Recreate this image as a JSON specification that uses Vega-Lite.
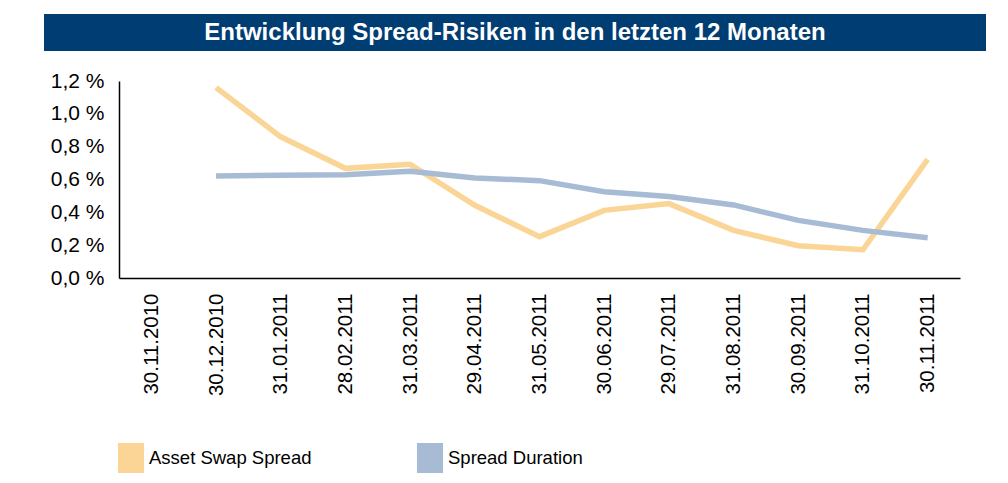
{
  "$schema": "https://vega.github.io/schema/vega-lite/v6.json",
  "padding": {"left": 44, "top": 14, "right": 0, "bottom": 0},
  "spacing": 19,
  "background": "white",
  "config": {
    "view": {"stroke": null},
    "font": "Liberation Sans",
    "axis": {"labelFont": "Liberation Sans", "labelColor": "#000000", "labelFontSize": 20, "grid": false, "ticks": false, "domainColor": "#000000", "domainWidth": 1.5, "title": null},
    "legend": {"labelFont": "Liberation Sans", "labelFontSize": 18.5, "labelColor": "#000000"}
  },
  "vconcat": [
    {
      "width": 942,
      "height": 37,
      "view": {"fill": "#003D73", "stroke": null},
      "data": {"values": [{"t": "Entwicklung Spread-Risiken in den letzten 12 Monaten"}]},
      "mark": {"type": "text", "color": "white", "fontSize": 24, "fontWeight": "bold", "font": "Liberation Sans"},
      "encoding": {"text": {"field": "t"}}
    },
    {
      "width": 916,
      "height": 197,
      "data": {"values": [
        {"date": "30.12.2010", "series": "Asset Swap Spread", "value": 1.16},
        {"date": "31.01.2011", "series": "Asset Swap Spread", "value": 0.86},
        {"date": "28.02.2011", "series": "Asset Swap Spread", "value": 0.668},
        {"date": "31.03.2011", "series": "Asset Swap Spread", "value": 0.693},
        {"date": "29.04.2011", "series": "Asset Swap Spread", "value": 0.443},
        {"date": "31.05.2011", "series": "Asset Swap Spread", "value": 0.252},
        {"date": "30.06.2011", "series": "Asset Swap Spread", "value": 0.412},
        {"date": "29.07.2011", "series": "Asset Swap Spread", "value": 0.453},
        {"date": "31.08.2011", "series": "Asset Swap Spread", "value": 0.29},
        {"date": "30.09.2011", "series": "Asset Swap Spread", "value": 0.197},
        {"date": "31.10.2011", "series": "Asset Swap Spread", "value": 0.172},
        {"date": "30.11.2011", "series": "Asset Swap Spread", "value": 0.723},
        {"date": "30.12.2010", "series": "Spread Duration", "value": 0.621},
        {"date": "31.01.2011", "series": "Spread Duration", "value": 0.626},
        {"date": "28.02.2011", "series": "Spread Duration", "value": 0.629},
        {"date": "31.03.2011", "series": "Spread Duration", "value": 0.65},
        {"date": "29.04.2011", "series": "Spread Duration", "value": 0.609},
        {"date": "31.05.2011", "series": "Spread Duration", "value": 0.593},
        {"date": "30.06.2011", "series": "Spread Duration", "value": 0.526},
        {"date": "29.07.2011", "series": "Spread Duration", "value": 0.497},
        {"date": "31.08.2011", "series": "Spread Duration", "value": 0.445},
        {"date": "30.09.2011", "series": "Spread Duration", "value": 0.351},
        {"date": "31.10.2011", "series": "Spread Duration", "value": 0.29},
        {"date": "30.11.2011", "series": "Spread Duration", "value": 0.245}
      ]},
      "mark": {"type": "line", "strokeWidth": 5.5, "strokeJoin": "miter", "strokeCap": "butt"},
      "encoding": {
        "x": {
          "field": "date", "type": "ordinal", "sort": null,
          "scale": {"domain": ["30.11.2010", "30.12.2010", "31.01.2011", "28.02.2011", "31.03.2011", "29.04.2011", "31.05.2011", "30.06.2011", "29.07.2011", "31.08.2011", "30.09.2011", "31.10.2011", "30.11.2011"], "padding": 0.5, "range": [75, 916]},
          "axis": {"labelAngle": 270, "labelPadding": 15, "labelFontSize": 20.5, "title": null}
        },
        "y": {
          "field": "value", "type": "quantitative",
          "scale": {"domain": [0, 1.2], "nice": false, "zero": true},
          "axis": {"values": [0, 0.2, 0.4, 0.6, 0.8, 1.0, 1.2], "labelExpr": "replace(format(datum.value, '.1f'), '.', ',') + ' %'", "labelPadding": 15, "labelFontSize": 21, "offset": -75, "minExtent": 0, "title": null}
        },
        "color": {
          "field": "series", "type": "nominal",
          "scale": {"domain": ["Asset Swap Spread", "Spread Duration"], "range": ["#FAD596", "#A7BBD5"]},
          "legend": {
            "title": null, "orient": "none", "legendX": 72, "legendY": 429,
            "direction": "horizontal", "columns": 2, "columnPadding": 103,
            "padding": 0, "labelLimit": 300, "labelOffset": 3,
            "symbolType": "M-0.87,-1H0.87V1H-0.87Z", "symbolSize": 900, "symbolStrokeWidth": 0,
            "encode": {"symbols": {"update": {"fill": {"scale": "color", "field": "value"}, "strokeWidth": {"value": 0}, "opacity": {"value": 1}}}}
          }
        }
      }
    }
  ]
}
